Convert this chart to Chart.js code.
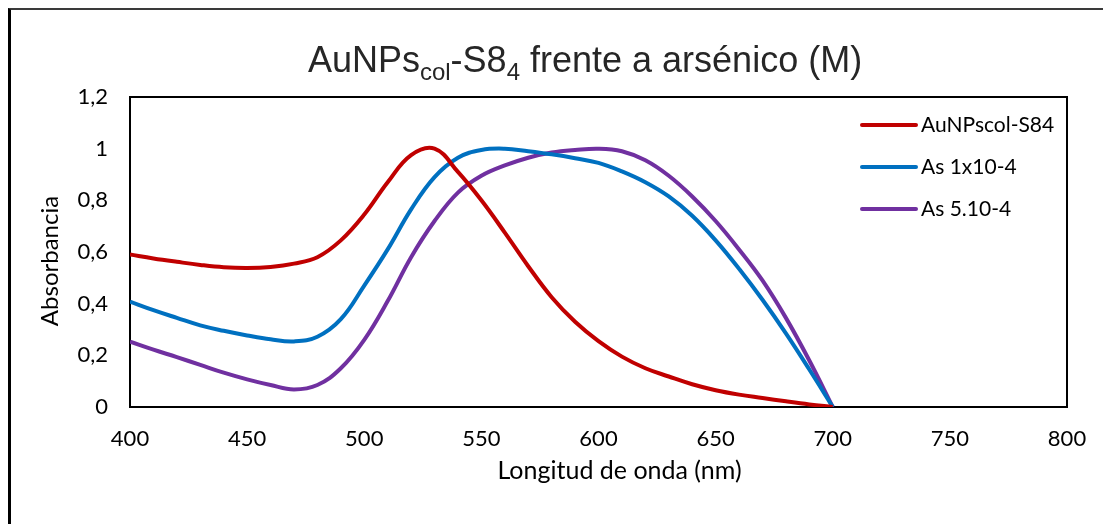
<!DOCTYPE html>
<html>
<head>
<meta charset="utf-8">
<script src="https://cdn.jsdelivr.net/npm/chart.js@4"></script>
<style>
    html, body { margin: 0; padding: 0; background: #fff; overflow: hidden; }
    #wrap { position: relative; width: 1103px; height: 524px; }
    #frame {
        position: absolute; left: 8px; top: 8px; right: -10px; bottom: -10px;
        border-top: 2px solid #3a3a3a; border-left: 3px solid #000;
    }
    #title {
        position: absolute; left: 585px; top: 42px; transform: translateX(-50%);
        white-space: nowrap; font-family: 'Liberation Sans', Arial, sans-serif;
        font-size: 36px; line-height: 1; color: #262626;
    }
    #title .sb { font-size: 24px; position: relative; top: 8px; }
    canvas { position: absolute; left: 0; top: 0; }
</style>
</head>
<body>
<div id="wrap">
    <div id="frame"></div>
    <canvas id="mainChart" width="1103" height="524"></canvas>
    <div id="title">AuNPs<span class="sb">col</span>-S8<span class="sb">4</span> frente a arsénico (M)</div>
</div>
<script>
// Wavelength (nm) samples
const wavelengths = [400, 410, 420, 430, 440, 450, 460, 470, 480, 490, 500, 510, 520, 530, 540, 550,
    560, 570, 580, 590, 600, 610, 620, 630, 640, 650, 660, 670, 680, 690, 700];

const seriesLabels = ['AuNPscol-S84', 'As 1x10-4', 'As 5.10-4'];

const auNPsValues = [0.590, 0.575, 0.562, 0.550, 0.541, 0.538, 0.542, 0.555, 0.580, 0.645, 0.745, 0.870, 0.975, 1.000, 0.910, 0.800,
    0.675, 0.545, 0.425, 0.330, 0.255, 0.195, 0.150, 0.118, 0.088, 0.065, 0.048, 0.035, 0.022, 0.010, 0];

const as1Values = [0.408, 0.375, 0.345, 0.316, 0.295, 0.277, 0.262, 0.254, 0.272, 0.340, 0.470, 0.610, 0.765, 0.890, 0.965, 0.995,
    1.000, 0.990, 0.978, 0.963, 0.945, 0.912, 0.870, 0.815, 0.740, 0.645, 0.535, 0.415, 0.285, 0.145, 0];

const as5Values = [0.253, 0.222, 0.193, 0.163, 0.133, 0.107, 0.085, 0.068, 0.085, 0.150, 0.260, 0.410, 0.580, 0.720, 0.830, 0.895,
    0.935, 0.965, 0.985, 0.995, 1.000, 0.990, 0.955, 0.895, 0.815, 0.720, 0.610, 0.490, 0.345, 0.180, 0];

const seriesColors = ['#C00000', '#0070C0', '#7030A0'];

const xTicks = { min: 400, max: 800, step: 50 };
const yTicks = { min: 0, max: 1.2, step: 0.2 };

const xTitle = 'Longitud de onda (nm)';
const yTitle = 'Absorbancia';

const tickFont = { family: 'Lato', size: 22 };

function toPoints(values) {
    return values.map((v, i) => ({ x: wavelengths[i], y: v }));
}

// black box round the plot area
const plotFrame = {
    id: 'plotFrame',
    beforeDatasetsDraw(chart) {
        const { ctx, chartArea } = chart;
        ctx.save();
        ctx.strokeStyle = '#000';
        ctx.lineWidth = 2;
        ctx.strokeRect(chartArea.left, chartArea.top, chartArea.right - chartArea.left, chartArea.bottom - chartArea.top);
        ctx.restore();
    }
};

// axis titles sit a little off centre in the original, so draw them by hand
const axisTitles = {
    id: 'axisTitles',
    afterDraw(chart) {
        const { ctx, chartArea } = chart;
        const midX = (chartArea.left + chartArea.right) / 2;
        const midY = (chartArea.top + chartArea.bottom) / 2;
        ctx.save();
        ctx.fillStyle = '#000';
        ctx.textAlign = 'center';
        ctx.textBaseline = 'middle';
        ctx.font = '25px Lato';
        ctx.fillText(xTitle, midX + 21, chartArea.bottom + 64);
        ctx.translate(50, midY + 9);
        ctx.rotate(-Math.PI / 2);
        ctx.font = '24px Lato';
        ctx.fillText(yTitle, 0, 0);
        ctx.restore();
    }
};

// legend sits inside the plot, top right
const innerLegend = {
    id: 'innerLegend',
    afterDraw(chart) {
        const { ctx, chartArea } = chart;
        const x0 = chartArea.right - 205;
        ctx.save();
        ctx.font = '21px Lato';
        ctx.textBaseline = 'middle';
        chart.data.datasets.forEach((ds, i) => {
            const y = chartArea.top + 28 + i * 42;
            ctx.strokeStyle = ds.borderColor;
            ctx.lineWidth = 4;
            ctx.lineCap = 'round';
            ctx.beginPath();
            ctx.moveTo(x0, y);
            ctx.lineTo(x0 + 54, y);
            ctx.stroke();
            ctx.fillStyle = '#000';
            ctx.fillText(ds.label, x0 + 59, y);
        });
        ctx.restore();
    }
};

const datasets = [auNPsValues, as1Values, as5Values].map((vals, i) => ({
    label: seriesLabels[i],
    data: toPoints(vals),
    borderColor: seriesColors[i],
    backgroundColor: seriesColors[i],
    borderWidth: 4,
    pointRadius: 0,
    tension: 0.4,
    fill: false
}));

const ctx = document.getElementById('mainChart').getContext('2d');

new Chart(ctx, {
    type: 'line',
    data: { datasets: datasets },
    options: {
        responsive: false,
        animation: false,
        layout: { padding: { left: 30, right: 36, top: 97, bottom: 0 } },
        plugins: {
            legend: { display: false },
            tooltip: { enabled: false }
        },
        scales: {
            x: {
                type: 'linear',
                min: xTicks.min,
                max: xTicks.max,
                grid: { display: false, drawTicks: false },
                border: { display: false },
                ticks: { stepSize: xTicks.step, font: tickFont, color: '#000', padding: 19 },
                title: { display: false, text: xTitle },
                afterFit(scale) {
                    scale.height = 117;
                    scale.paddingLeft = 0;
                    scale.paddingRight = 0;
                }
            },
            y: {
                min: yTicks.min,
                max: yTicks.max,
                grid: { display: false, drawTicks: false },
                border: { display: false },
                ticks: {
                    stepSize: yTicks.step,
                    font: tickFont,
                    color: '#000',
                    padding: 22,
                    callback: v => String(Number(v.toFixed(1))).replace('.', ',')
                },
                title: { display: false, text: yTitle },
                afterFit(scale) { scale.width = 100; }
            }
        }
    },
    plugins: [plotFrame, axisTitles, innerLegend]
});
</script>
</body>
</html>
